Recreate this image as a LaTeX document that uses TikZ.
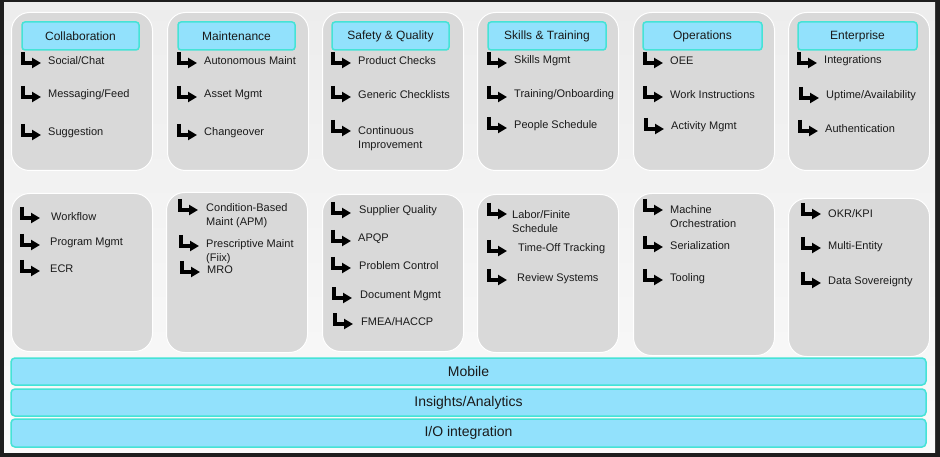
\documentclass[tikz,border=0pt]{standalone}
\usepackage{fontspec}
\setmainfont{Liberation Sans}
\usetikzlibrary{arrows.meta}
\definecolor{framecol}{HTML}{1E1E1E}
\definecolor{bgtop}{HTML}{EDEDED}
\definecolor{bgbot}{HTML}{FAFAFA}
\definecolor{panelfill}{HTML}{D9D9D9}
\definecolor{hdrfill}{HTML}{92E1FC}
\definecolor{hdrline}{HTML}{45E3D6}
\definecolor{txt}{HTML}{1A1A1A}
\tikzset{
  panel/.style={draw=white, line width=1pt, fill=panelfill, rounded corners=18pt,
    anchor=north west, minimum width=141pt, inner sep=0pt},
  hdr/.style={draw=hdrline, line width=1.5pt, fill=hdrfill, rounded corners=3pt,
    minimum height=28pt, inner sep=0pt, text=txt, font=\fontsize{12}{14}\selectfont},
  bar/.style={draw=hdrline, line width=1.5pt, fill=hdrfill, rounded corners=4pt,
    minimum width=915pt, inner sep=0pt, text=txt, font=\fontsize{14}{16}\selectfont},
  itm/.style={anchor=west, inner sep=0pt, text=txt, align=left, font=\fontsize{11}{14}\selectfont},
  larr/.pic={\draw[line width=3.2pt, line join=miter, black,
      -{Triangle[length=9pt,width=10pt]}]
    (0,-11) -- (0,0) -- (18,0);}
}
\begin{document}
\begin{tikzpicture}[x=1pt,y=-1pt]
\useasboundingbox (0,0) rectangle (940,457);
\fill[framecol] (0,0) rectangle (940,457);
\shade[top color=bgtop, bottom color=bgbot] (4,3) rectangle (935,452);

% ---- top row panels
\node[panel, minimum height=158pt] (p1) at (11,12) {};
\node[panel, minimum height=158pt] (p2) at (167,12) {};
\node[panel, minimum height=158pt] (p3) at (322,12) {};
\node[panel, minimum height=158pt] (p4) at (477,12) {};
\node[panel, minimum height=158pt] (p5) at (633,12) {};
\node[panel, minimum height=158pt] (p6) at (788,12) {};

% ---- bottom row panels
\node[panel, minimum height=158pt] (q1) at (11,193) {};
\node[panel, minimum height=160pt] (q2) at (166,192) {};
\node[panel, minimum height=157pt] (q3) at (322,194) {};
\node[panel, minimum height=158pt] (q4) at (477,194) {};
\node[panel, minimum height=162pt] (q5) at (633,193) {};
\node[panel, minimum height=158pt] (q6) at (788,198) {};

% ---- headers
\node[hdr, minimum width=117pt] (h1) at (80.5,36) {Collaboration};
\node[hdr, minimum width=117pt] (h2) at (236.5,36) {Maintenance};
\node[hdr, minimum width=117pt] (h3) at (390.5,36) {Safety \& Quality};
\node[hdr, minimum width=118pt] (h4) at (547,36) {Skills \& Training};
\node[hdr, minimum width=119pt] (h5) at (702.5,36) {Operations};
\node[hdr, minimum width=119pt] (h6) at (857.5,36) {Enterprise};

% ---- top row items
\pic at (23,63) {larr};  \node[itm] (a11) at (48,61) {Social/Chat};
\pic at (23,97) {larr};  \node[itm] (a12) at (48,95) {Messaging/Feed};
\pic at (23,135) {larr}; \node[itm] (a13) at (48,133) {Suggestion};

\pic at (179,63) {larr};  \node[itm] (a21) at (204,61) {Autonomous Maint};
\pic at (179,97) {larr};  \node[itm] (a22) at (204,95) {Asset Mgmt};
\pic at (179,135) {larr}; \node[itm] (a23) at (204,133) {Changeover};

\pic at (333,63) {larr};  \node[itm] (a31) at (358,61) {Product Checks};
\pic at (333,97) {larr};  \node[itm] (a32) at (358,95) {Generic Checklists};
\pic at (333,131) {larr}; \node[itm] (a33) at (358,139) {Continuous\\Improvement};

\pic at (489,63) {larr};  \node[itm] (a41) at (514,61) {Skills Mgmt};
\pic at (489,97) {larr};  \node[itm] (a42) at (514,95) {Training/Onboarding};
\pic at (489,128) {larr}; \node[itm] (a43) at (514,126) {People Schedule};

\pic at (645,63) {larr};  \node[itm] (a51) at (670,61) {OEE};
\pic at (645,97) {larr};  \node[itm] (a52) at (670,95) {Work Instructions};
\pic at (646,129) {larr}; \node[itm] (a53) at (671,127) {Activity Mgmt};

\pic at (799,63) {larr};  \node[itm] (a61) at (824,61) {Integrations};
\pic at (801,98) {larr};  \node[itm] (a62) at (826,96) {Uptime/Availability};
\pic at (800,131) {larr}; \node[itm] (a63) at (825,129) {Authentication};

% ---- bottom row items
\pic at (22,218) {larr};  \node[itm] (b11) at (51,217) {Workflow};
\pic at (22,245) {larr};  \node[itm] (b12) at (50,243) {Program Mgmt};
\pic at (22,271) {larr};  \node[itm] (b13) at (50,269) {ECR};

\pic at (180,210) {larr}; \node[itm] (b21) at (206,216) {Condition-Based\\Maint (APM)};
\pic at (181,246) {larr}; \node[itm] (b22) at (206,252) {Prescriptive Maint\\(Fiix)};
\pic at (182,272) {larr}; \node[itm] (b23) at (207,270) {MRO};

\pic at (333,213) {larr}; \node[itm] (b31) at (359,211) {Supplier Quality};
\pic at (333,241) {larr}; \node[itm] (b32) at (358,239) {APQP};
\pic at (333,268) {larr}; \node[itm] (b33) at (359,266) {Problem Control};
\pic at (334,298) {larr}; \node[itm] (b34) at (360,296) {Document Mgmt};
\pic at (335,324) {larr}; \node[itm] (b35) at (361,322) {FMEA/HACCP};

\pic at (489,214) {larr}; \node[itm] (b41) at (512,221.5) {Labor/Finite\\Schedule};
\pic at (489,251) {larr}; \node[itm] (b42) at (518,249) {Time-Off Tracking};
\pic at (489,280) {larr}; \node[itm] (b43) at (517,279) {Review Systems};

\pic at (645,210) {larr}; \node[itm] (b51) at (670,216.5) {Machine\\Orchestration};
\pic at (645,247) {larr}; \node[itm] (b52) at (670,246) {Serialization};
\pic at (645,280) {larr}; \node[itm] (b53) at (670,279) {Tooling};

\pic at (803,214) {larr}; \node[itm] (b61) at (828,214) {OKR/KPI};
\pic at (803,248) {larr}; \node[itm] (b62) at (828,247) {Multi-Entity};
\pic at (803,283) {larr}; \node[itm] (b63) at (828,282) {Data Sovereignty};

% ---- bars
\node[bar, minimum height=27pt] (mobile) at (468.5,371.5) {Mobile};
\node[bar, minimum height=27pt] (insights) at (468.5,402.5) {Insights/Analytics};
\node[bar, minimum height=28pt] (io) at (468.5,433) {I/O integration};
\end{tikzpicture}
\end{document}
